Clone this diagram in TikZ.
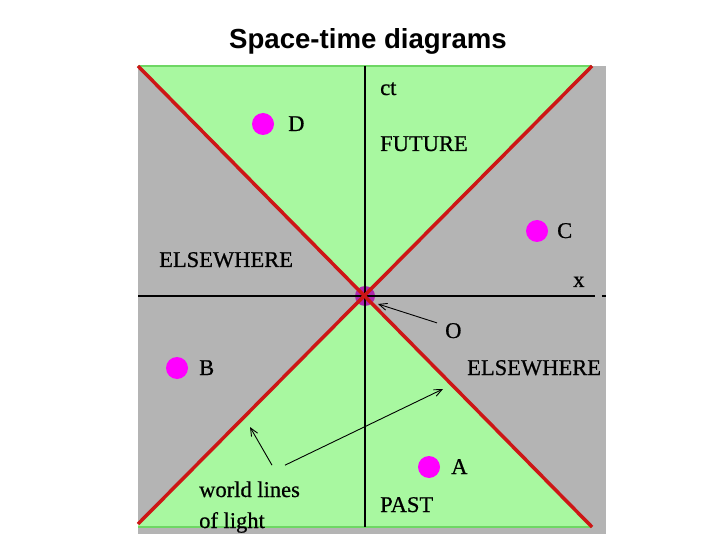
\documentclass[tikz,border=0pt]{standalone}
\usepackage{fontspec}
\setmainfont{Liberation Serif}
\newfontfamily\titlefont{Liberation Sans}
\newfontfamily\labelfont[FakeBold=0.7]{Liberation Serif}
\usepackage{tikz}
\usetikzlibrary{arrows.meta, positioning}

\definecolor{conegreen}{RGB}{168,248,160}
\definecolor{edgegreen}{RGB}{110,215,100}
\definecolor{elsegray}{RGB}{180,180,180}
\definecolor{conered}{RGB}{205,22,22}
\definecolor{eventpink}{RGB}{255,0,255}
\definecolor{originpurple}{RGB}{175,40,175}

\tikzset{
	event/.style={circle, fill=eventpink, minimum size=22bp, inner sep=0pt},
	lbl/.style={anchor=base west, inner sep=0pt, font=\labelfont\fontsize{22.6}{26}\selectfont},
	pointer/.style={-{Straight Barb[length=8bp, width=7bp]}, line width=0.9bp}
}

\begin{document}
\begin{tikzpicture}[x=1bp, y=-1bp]
				\useasboundingbox (0,0) rectangle (720,540);
				
				% Title
				\node[font=\titlefont\bfseries\fontsize{27.7}{32}\selectfont] (title) at (368,41) {Space-time diagrams};
				
				% Regions
				\fill[elsegray] (138,66) rectangle (606,534);
				\fill[conegreen] (138,66) -- (592,66) -- (365,296) -- cycle;
				\fill[conegreen] (365,296) -- (138,524) -- (138,527) -- (592,527) -- cycle;
				\draw[edgegreen, line width=1.5bp] (138,66) -- (592,66);
				\draw[edgegreen, line width=1.5bp] (138,527) -- (592,527);
				
				% Origin
				\coordinate (O) at (365,296);
				\node[event, fill=originpurple, minimum size=20bp] (origin) at (O) {};
				
				% Axes
				\draw[line width=2.8bp] (365,66) -- (365,527);
				\draw[line width=2.8bp] (138,296) -- (595,296);
				\draw[line width=1.5bp] (602,296) -- (606,296);
				
				% Light lines
				\draw[conered, line width=3.5bp] (138,66) -- (592,527);
				\draw[conered, line width=3.5bp] (138,524) -- (592,66);
				
				% Events
				\node[event] (D) at (263,124) {};
				\node[event] (C) at (537,231) {};
				\node[event] (B) at (177,368) {};
				\node[event] (A) at (429,467) {};
				
				% Labels
				\node[lbl] (ct) at (380,95) {ct};
				\node[lbl] (xlabel) at (573,287) {x};
				\node[lbl] (future) at (380,151) {FUTURE};
				\node[lbl] (past) at (380,512) {PAST};
				\node[lbl] (elseleft) at (159,267) {ELSEWHERE};
				\node[lbl] (elseright) at (467,375) {ELSEWHERE};
				\node[lbl] (dlabel) at (288,131) {D};
				\node[lbl] (clabel) at (557,238) {C};
				\node[lbl] (blabel) at (199,375) {B};
				\node[lbl] (alabel) at (451,474) {A};
				\node[lbl] (olabel) at (445,338) {O};
				\node[lbl] (wlines) at (199,497) {world lines};
				\node[lbl] (wlight) at (199,528) {of light};
				
				% Pointers
				\coordinate (otip) at (378,304);
				\coordinate (wltipleft) at (250,427);
				\coordinate (wltipright) at (443,389);
				\draw[pointer] ([xshift=-8bp]olabel.north west) -- (otip);
				\draw[pointer] ([shift={(73,-16)}]wlines.north west) -- (wltipleft);
				\draw[pointer] ([shift={(86,-16)}]wlines.north west) -- (wltipright);
			\end{tikzpicture}
\end{document}
